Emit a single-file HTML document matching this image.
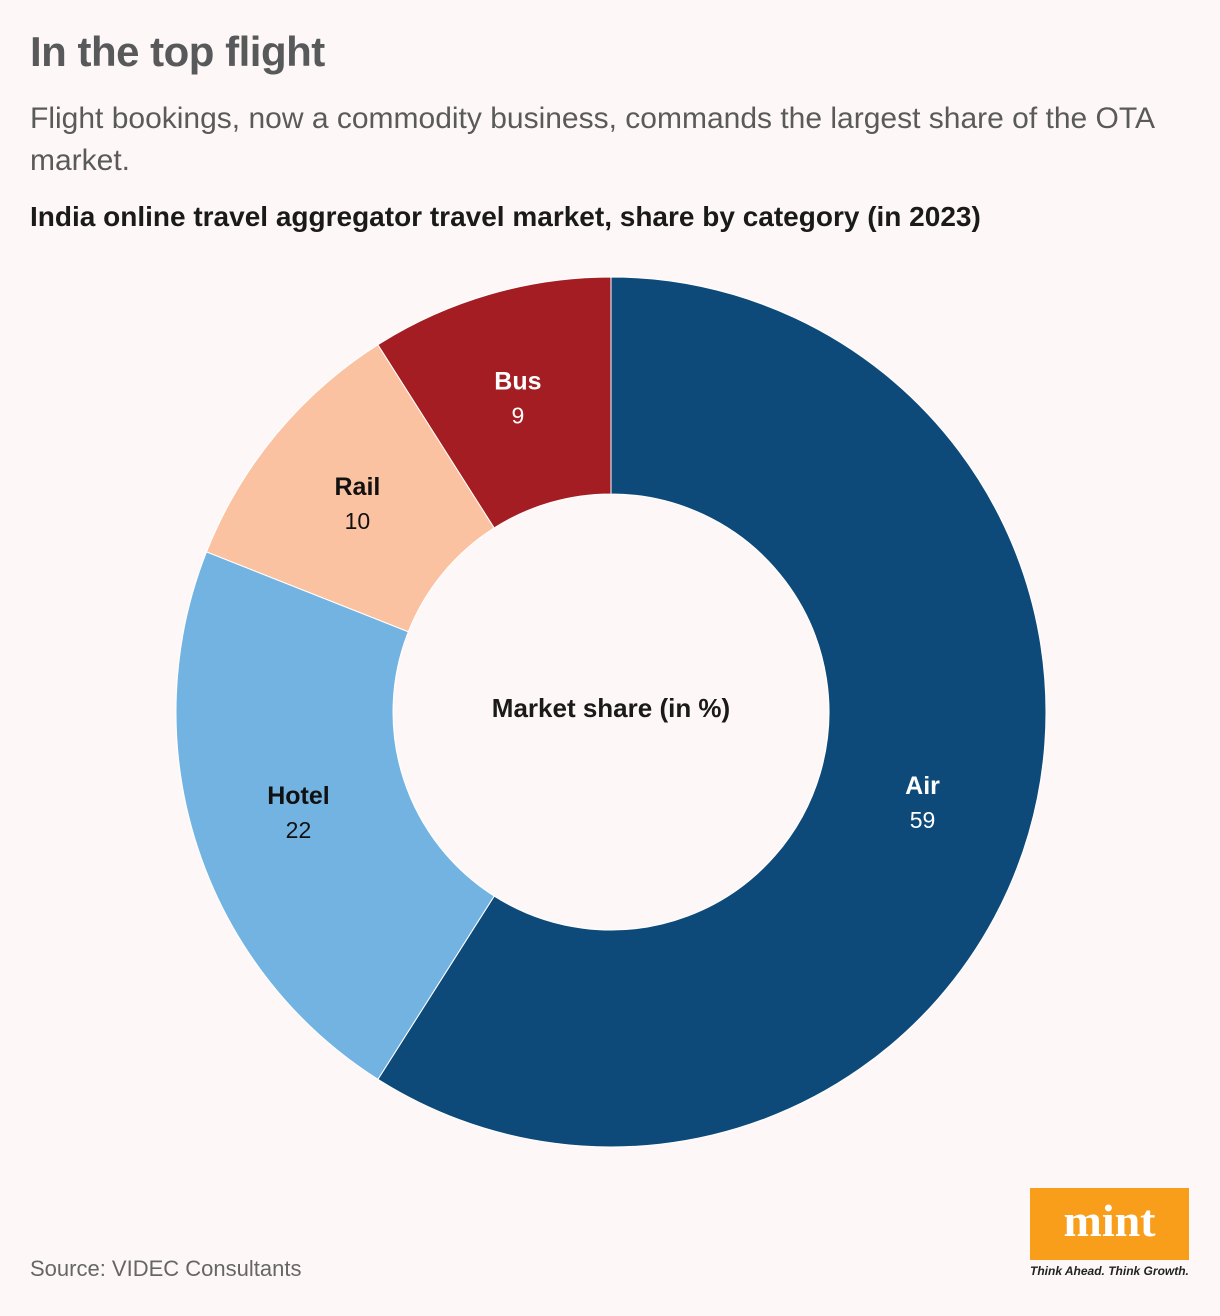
<!DOCTYPE html>
<html><head><meta charset="utf-8">
<style>
body{margin:0;background:#fdf8f7;width:1220px;height:1316px;overflow:hidden;font-family:"Liberation Sans",sans-serif;position:relative}
.t{position:absolute;left:30px;top:28px;font-size:42px;font-weight:bold;color:#58595b;letter-spacing:-0.5px}
.s{position:absolute;left:30px;top:98px;width:1170px;font-size:30px;line-height:42px;color:#5a5a5a}
.h{position:absolute;left:30px;top:201px;font-size:28px;font-weight:bold;color:#1a1a1a}
.src{position:absolute;left:30px;top:1256px;font-size:22px;color:#666}
.logo{position:absolute;left:1030px;top:1188px;width:159px;height:72px;background:#f89e1b;color:#fff;font-family:"Liberation Serif",serif;font-weight:bold;font-size:46px;text-align:center;line-height:66px}
.tag{position:absolute;left:1030px;top:1264px;font-size:12px;font-style:italic;font-weight:bold;color:#222}
</style></head><body>
<div class="t">In the top flight</div>
<div class="s">Flight bookings, now a commodity business, commands the largest share of the OTA market.</div>
<div class="h">India online travel aggregator travel market, share by category (in 2023)</div>
<svg id="c" width="1220" height="1316" style="position:absolute;left:0;top:0"></svg>
<div class="src">Source: VIDEC Consultants</div>
<div class="logo">mint</div>
<div class="tag">Think Ahead. Think Growth.</div>
<script>
const categories=["Air","Hotel","Rail","Bus"];
const values=[59,22,10,9];
const colors=["#0d4a7a","#72b3e2","#fbc2a2","#a31d23"];
const textColors=["#fff","#111","#111","#fff"];
const cx=611,cy=712,R=435,r=218;
const svg=document.getElementById('c');
const NS="http://www.w3.org/2000/svg";
const total=values.reduce((a,b)=>a+b,0);
function pt(a,rad){return [cx+rad*Math.sin(a),cy-rad*Math.cos(a)];}
let acc=0;
values.forEach((v,i)=>{
  const a0=acc/total*2*Math.PI,a1=(acc+v)/total*2*Math.PI;acc+=v;
  const large=(a1-a0)>Math.PI?1:0;
  const p1=pt(a0,R),p2=pt(a1,R),p3=pt(a1,r),p4=pt(a0,r);
  const p=document.createElementNS(NS,'path');
  p.setAttribute('d',`M${p1}A${R},${R} 0 ${large} 1 ${p2}L${p3}A${r},${r} 0 ${large} 0 ${p4}Z`);
  p.setAttribute('fill',colors[i]);p.setAttribute('stroke','#fff');p.setAttribute('stroke-width','1');
  
  
  svg.appendChild(p);
  const m=pt((a0+a1)/2,(R+r)/2);
  const t1=document.createElementNS(NS,'text');
  t1.setAttribute('x',m[0]-2);t1.setAttribute('y',m[1]-9);t1.setAttribute('text-anchor','middle');
  t1.setAttribute('font-size','25');t1.setAttribute('font-weight','bold');t1.setAttribute('fill',textColors[i]);
  t1.setAttribute('font-family','Liberation Sans, sans-serif');
  t1.textContent=categories[i];
  
  
  svg.appendChild(t1);
  const t2=document.createElementNS(NS,'text');
  t2.setAttribute('x',m[0]-2);t2.setAttribute('y',m[1]+25);t2.setAttribute('text-anchor','middle');
  t2.setAttribute('font-size','23');t2.setAttribute('fill',textColors[i]);
  t2.setAttribute('font-family','Liberation Sans, sans-serif');
  t2.textContent=v;
  
  
  svg.appendChild(t2);
});
const ct=document.createElementNS(NS,'text');
ct.setAttribute('x',cx);ct.setAttribute('y',cy+5);ct.setAttribute('text-anchor','middle');
ct.setAttribute('font-size','26');ct.setAttribute('font-weight','bold');ct.setAttribute('fill','#1a1a1a');
ct.setAttribute('font-family','Liberation Sans, sans-serif');
ct.textContent='Market share (in %)';


svg.appendChild(ct);
</script>
</body></html>
